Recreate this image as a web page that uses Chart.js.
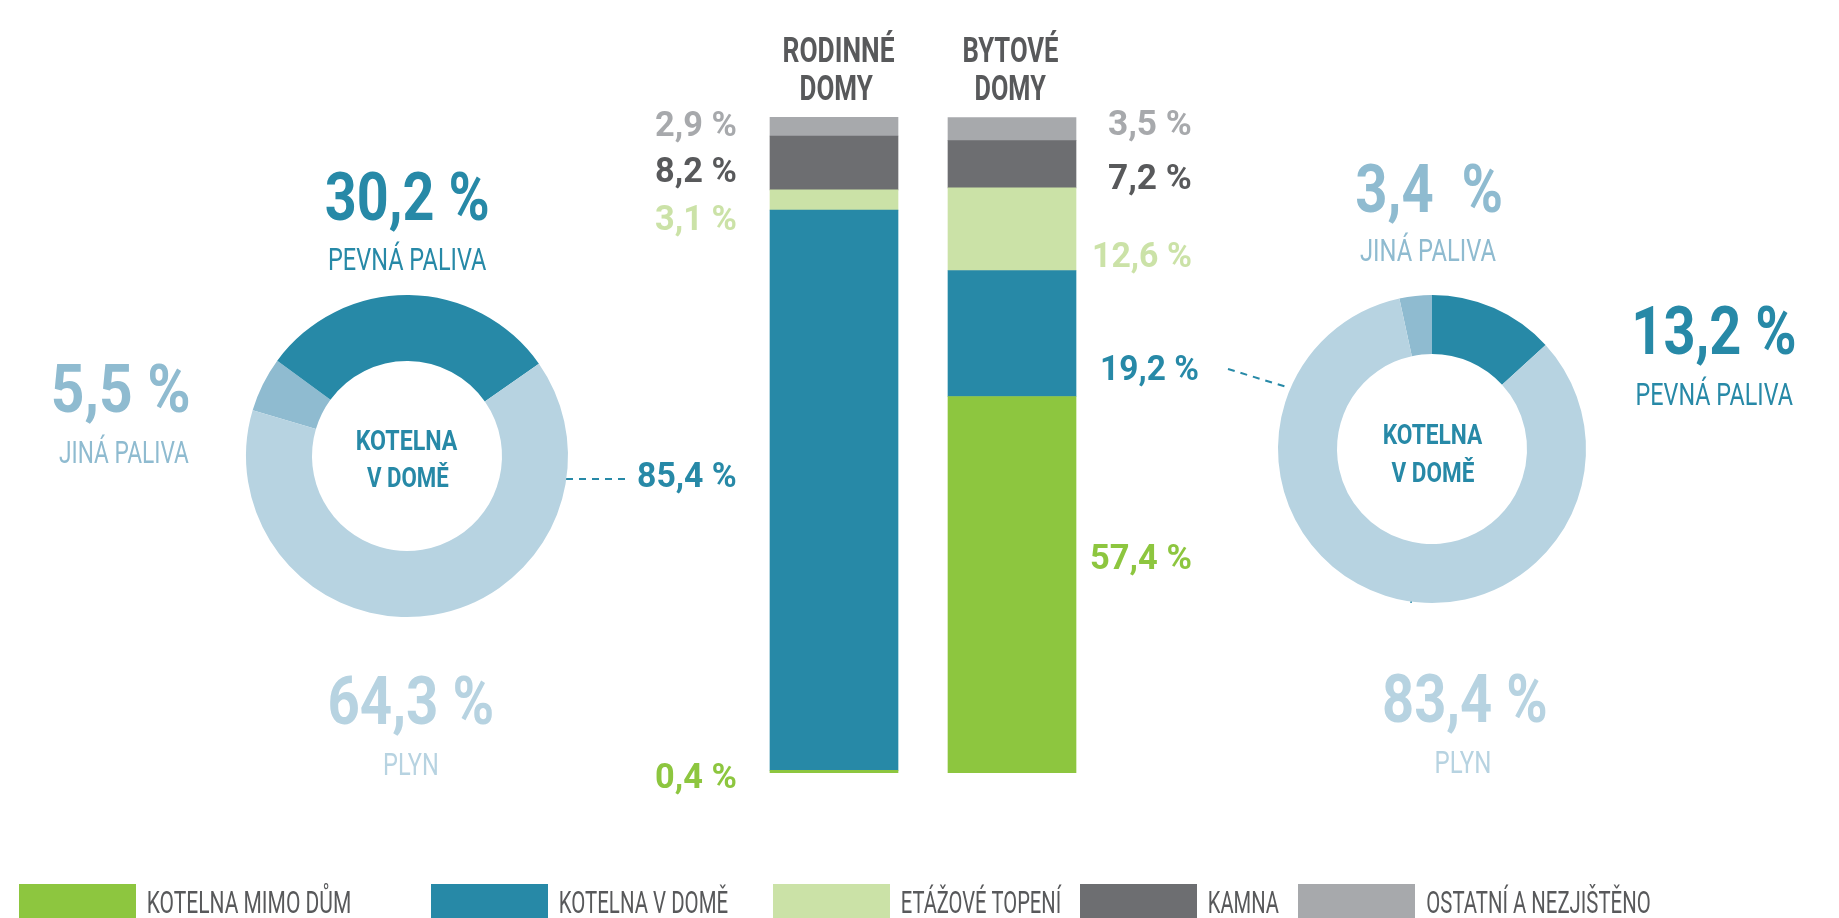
<!DOCTYPE html>
<html lang="cs">
<head>
<meta charset="utf-8">
<title>Způsob vytápění</title>
<script src="https://cdn.jsdelivr.net/npm/chart.js@4.4.1/dist/chart.umd.min.js"></script>
<style>
html, body { margin: 0; padding: 0; background: #fff; overflow: hidden; }
#wrap { position: relative; width: 1839px; height: 918px; }
#wrap canvas { position: absolute; left: 0; top: 0; }
</style>
</head>
<body>
<div id="wrap">
    <canvas id="barChart" width="1839" height="918"></canvas>
    <canvas id="donutLeft" width="1839" height="918"></canvas>
    <canvas id="donutRight" width="1839" height="918"></canvas>
</div>
<script>
// data
const categories = [['RODINNÉ', 'DOMY'], ['BYTOVÉ', 'DOMY']];
const heatingTypes = ['KOTELNA MIMO DŮM', 'KOTELNA V DOMĚ', 'ETÁŽOVÉ TOPENÍ', 'KAMNA', 'OSTATNÍ A NEZJIŠTĚNO'];
const kotelnaMimoDum = [0.4, 57.4];
const kotelnaVDome = [85.4, 19.2];
const etazoveTopeni = [3.1, 12.6];
const kamna = [8.2, 7.2];
const ostatni = [2.9, 3.5];
const fuelLabels = ['JINÁ PALIVA', 'PEVNÁ PALIVA', 'PLYN'];
const fuelRodinne = [5.5, 30.2, 64.3];
const fuelBytove = [3.4, 13.2, 83.4];
const donutTitle = ['KOTELNA', 'V DOMĚ'];

const GREEN = '#8dc63f';
const TEAL = '#2789a7';
const LIGHT_GREEN = '#cbe2a7';
const DARK_GRAY = '#6d6e71';
const LIGHT_GRAY = '#a7a9ac';
const TEXT_GRAY = '#58595b';
const FUEL_COLORS = ['#8fbbd0', TEAL, '#b7d3e1'];
const BAR_COLORS = [GREEN, TEAL, LIGHT_GREEN, DARK_GRAY, LIGHT_GRAY];
const LABEL_COLORS = [GREEN, TEAL, LIGHT_GREEN, TEXT_GRAY, LIGHT_GRAY];

const CAP = 0.711; // Roboto cap height / em
const fmt = (v, gap) => v.toFixed(1).replace('.', ',') + (gap || ' ') + '%';

// draws text squeezed to a given ink width, cy is the middle of the capitals
function drawText(ctx, text, x, cy, size, weight, color, width, align) {
    ctx.save();
    ctx.font = weight + ' ' + size + 'px Roboto, "DejaVu Sans", sans-serif';
    ctx.fillStyle = color;
    ctx.textAlign = 'left';
    ctx.textBaseline = 'alphabetic';
    const m = ctx.measureText(text);
    const ink = m.actualBoundingBoxLeft + m.actualBoundingBoxRight;
    const sx = width / ink;
    let left = x;
    if (align === 'center') left = x - width / 2;
    if (align === 'right') left = x - width;
    ctx.translate(left + m.actualBoundingBoxLeft * sx, cy + size * CAP / 2);
    ctx.scale(sx, 1);
    ctx.fillText(text, 0, 0);
    ctx.restore();
}

function dashed(ctx, x1, y1, x2, y2) {
    ctx.save();
    ctx.strokeStyle = TEAL;
    ctx.lineWidth = 2;
    ctx.setLineDash([7, 6]);
    ctx.beginPath();
    ctx.moveTo(x1, y1);
    ctx.lineTo(x2, y2);
    ctx.stroke();
    ctx.restore();
}

// label positions next to the bars (cap middle y, ink width), per dataset
const leftLabelY = [776, 475, 218, 170, 124];
const leftLabelW = [80, 98, 80, 80, 80];
const rightLabelY = [557, 368, 255, 177, 123];
const rightLabelW = [100, 96, 97, 82, 82];

const annotations = {
    id: 'annotations',
    afterDraw(chart) {
        const ctx = chart.ctx;

        // values beside the bars
        chart.data.datasets.forEach((ds, i) => {
            const bars = chart.getDatasetMeta(i).data;
            const l = bars[0], r = bars[1];
            drawText(ctx, fmt(ds.data[0]), l.x - l.width / 2 - 34, leftLabelY[i], 35, 'bold', LABEL_COLORS[i], leftLabelW[i], 'right');
            drawText(ctx, fmt(ds.data[1]), r.x + r.width / 2 + 115 + (i === 1 ? 7 : 0), rightLabelY[i], 35, 'bold', LABEL_COLORS[i], rightLabelW[i], 'right');
        });

        // column headers
        const xs = chart.scales.x;
        drawText(ctx, categories[0][0], xs.getPixelForValue(0) + 5, 50, 35, 'bold', TEXT_GRAY, 110, 'center');
        drawText(ctx, categories[0][1], xs.getPixelForValue(0) + 3, 88, 35, 'bold', TEXT_GRAY, 72, 'center');
        drawText(ctx, categories[1][0], xs.getPixelForValue(1) - 1, 50, 35, 'bold', TEXT_GRAY, 94, 'center');
        drawText(ctx, categories[1][1], xs.getPixelForValue(1) - 1, 88, 35, 'bold', TEXT_GRAY, 70, 'center');

        // left doughnut texts
        drawText(ctx, fmt(fuelRodinne[1]), 407, 196, 67, 'bold', FUEL_COLORS[1], 161, 'center');
        drawText(ctx, fuelLabels[1], 408, 259, 32, 'normal', FUEL_COLORS[1], 157, 'center');
        drawText(ctx, fmt(fuelRodinne[0]), 121, 388, 67, 'bold', FUEL_COLORS[0], 135, 'center');
        drawText(ctx, fuelLabels[0], 124, 452, 32, 'normal', FUEL_COLORS[0], 130, 'center');
        drawText(ctx, fmt(fuelRodinne[2]), 411, 700, 67, 'bold', FUEL_COLORS[2], 162, 'center');
        drawText(ctx, fuelLabels[2], 411, 764, 32, 'normal', FUEL_COLORS[2], 53, 'center');
        drawText(ctx, donutTitle[0], 407, 440, 28, 'bold', TEAL, 101, 'center');
        drawText(ctx, donutTitle[1], 408, 477, 28, 'bold', TEAL, 82, 'center');

        // right doughnut texts
        drawText(ctx, fmt(fuelBytove[0], '  '), 1429, 188, 67, 'bold', FUEL_COLORS[0], 144, 'center');
        drawText(ctx, fuelLabels[0], 1428, 250, 32, 'normal', FUEL_COLORS[0], 136, 'center');
        drawText(ctx, fmt(fuelBytove[1]), 1715, 330, 67, 'bold', FUEL_COLORS[1], 159, 'center');
        drawText(ctx, fuelLabels[1], 1715, 394, 32, 'normal', FUEL_COLORS[1], 156, 'center');
        drawText(ctx, fmt(fuelBytove[2]), 1465, 698, 67, 'bold', FUEL_COLORS[2], 161, 'center');
        drawText(ctx, fuelLabels[2], 1463, 762, 32, 'normal', FUEL_COLORS[2], 54, 'center');
        drawText(ctx, donutTitle[0], 1433, 434, 28, 'bold', TEAL, 99, 'center');
        drawText(ctx, donutTitle[1], 1433, 472, 28, 'bold', TEAL, 83, 'center');

        // leader lines
        dashed(ctx, 566, 479, 630, 479);
        dashed(ctx, 1228, 369, 1290, 388);
        ctx.save();
        ctx.strokeStyle = TEAL;
        ctx.lineWidth = 1.5;
        ctx.beginPath();
        ctx.moveTo(1412, 594);
        ctx.lineTo(1411, 603);
        ctx.stroke();
        ctx.restore();

        // legend
        const boxX = [19, 431, 773, 1080, 1298];
        const textW = [202, 168, 160, 70, 223];
        chart.data.datasets.forEach((ds, i) => {
            ctx.fillStyle = ds.backgroundColor;
            ctx.fillRect(boxX[i], 884, 117, 40);
            drawText(ctx, ds.label, boxX[i] + 129, 902, 32, 'normal', TEXT_GRAY, textW[i], 'left');
        });
    }
};

const datasets = [kotelnaMimoDum, kotelnaVDome, etazoveTopeni, kamna, ostatni].map((values, i) => ({
    label: heatingTypes[i],
    data: values,
    backgroundColor: BAR_COLORS[i],
    borderWidth: 0,
    barThickness: 128
}));

new Chart(document.getElementById('barChart'), {
    type: 'bar',
    data: {
        labels: categories.map(c => c.join(' ')),
        datasets: datasets
    },
    options: {
        responsive: false,
        animation: false,
        events: [],
        layout: { padding: { left: 745, right: 738, top: 117, bottom: 145 } },
        plugins: { legend: { display: false }, tooltip: { enabled: false } },
        scales: {
            x: { stacked: true, display: false },
            y: { stacked: true, display: false, min: 0, max: 100 }
        }
    },
    plugins: [annotations]
});

function makeDonut(id, values, rotation, padding) {
    return new Chart(document.getElementById(id), {
        type: 'doughnut',
        data: {
            labels: fuelLabels,
            datasets: [{
                data: values,
                backgroundColor: FUEL_COLORS,
                borderWidth: 0,
                hoverOffset: 0
            }]
        },
        options: {
            responsive: false,
            animation: false,
            events: [],
            cutout: 95,
            rotation: rotation,
            layout: { padding: padding },
            plugins: { legend: { display: false }, tooltip: { enabled: false } }
        }
    });
}

makeDonut('donutLeft', fuelRodinne, -73.5, { left: 246, right: 1271, top: 295, bottom: 301 });
makeDonut('donutRight', fuelBytove, -12.24, { left: 1278, right: 253, top: 295, bottom: 315 });
</script>
</body>
</html>
